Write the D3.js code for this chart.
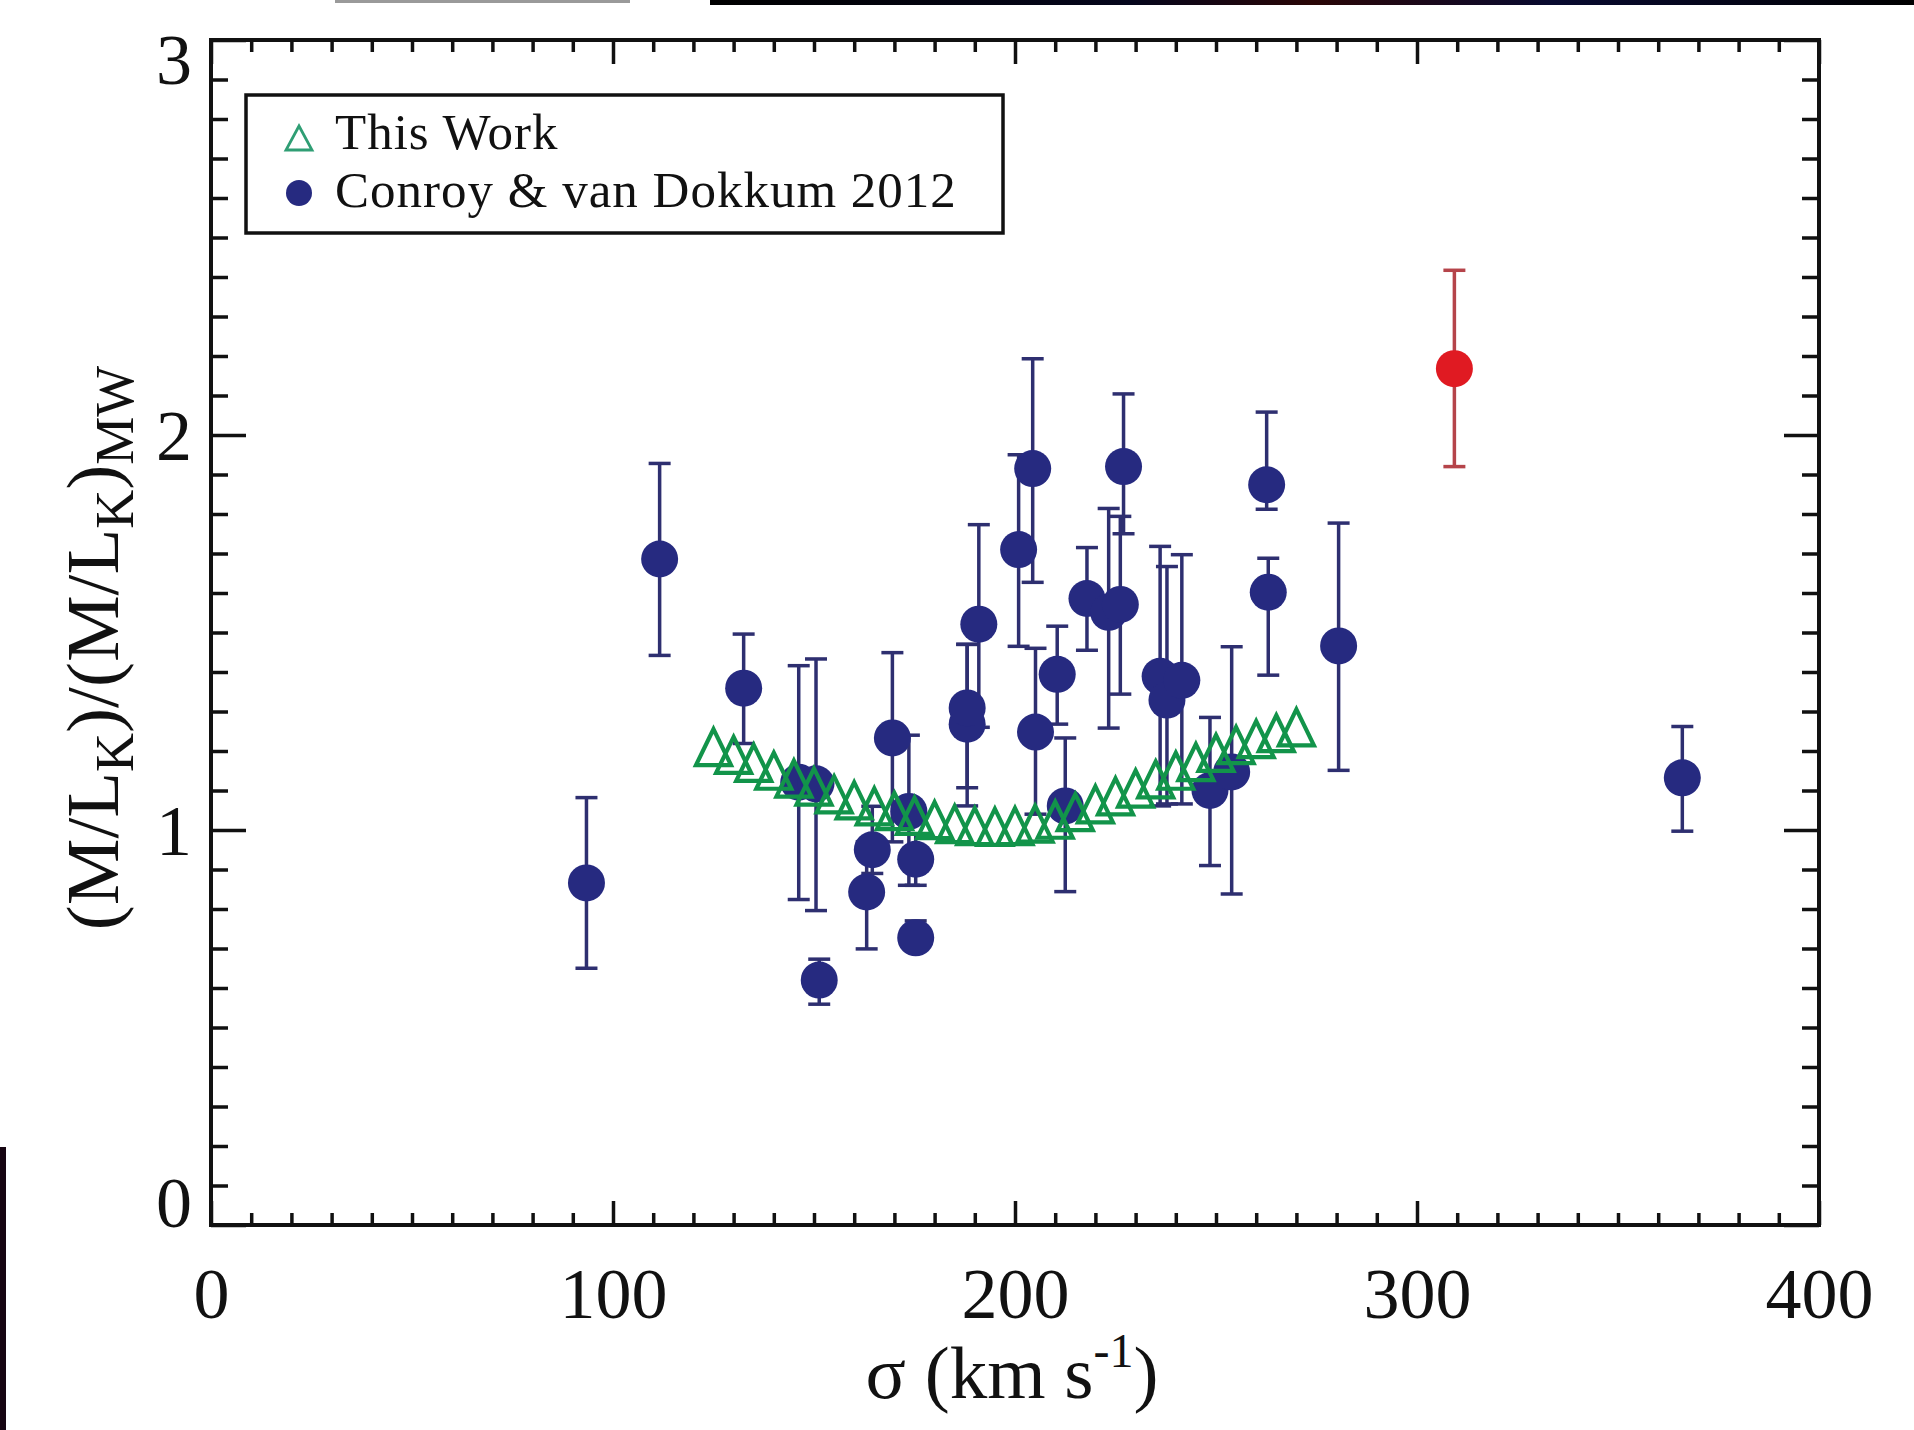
<!DOCTYPE html>
<html>
<head>
<meta charset="utf-8">
<script src="https://cdn.jsdelivr.net/npm/d3@7"></script>
<style>
  html, body { margin: 0; padding: 0; background: #ffffff; }
  svg { display: block; }
</style>
</head>
<body>
<svg id="chart" width="1914" height="1430"></svg>
<script>
// ---- Conroy & van Dokkum (2012) galaxies: sigma, M/L ratio, error range ----
const sigmaCvD = [93.4, 111.6, 132.5, 146.2, 150.5, 151.3, 163.1, 164.5, 169.5, 173.6,
                  175.3, 175.3, 188.1, 188.1, 191.0, 200.9, 204.4, 205.1, 210.5, 212.5,
                  217.9, 223.3, 226.2, 227.0, 236.1, 237.8, 241.5, 248.5, 253.9, 262.6,
                  263.0, 280.5, 366.0];
const ratioCvD = [0.866, 1.686, 1.359, 1.121, 1.117, 0.620, 0.843, 0.950, 1.233, 1.047,
                  0.926, 0.727, 1.268, 1.309, 1.521, 1.710, 1.915, 1.248, 1.394, 1.061,
                  1.586, 1.551, 1.571, 1.920, 1.389, 1.329, 1.379, 1.100, 1.147, 1.874,
                  1.602, 1.466, 1.132];
const ratioCvDLow = [0.650, 1.442, 1.219, 0.824, 0.796, 0.559, 0.699, 0.890, 0.970, 0.860,
                     0.860, 0.700, 1.061, 1.107, 1.260, 1.465, 1.627, 1.040, 1.268, 0.844,
                     1.455, 1.258, 1.344, 1.750, 1.061, 1.066, 1.066, 0.910, 0.838, 1.812,
                     1.392, 1.151, 0.997];
const ratioCvDHigh = [1.082, 1.928, 1.496, 1.416, 1.433, 0.673, 0.970, 1.060, 1.449, 1.240,
                      0.990, 0.770, 1.470, 1.470, 1.773, 1.950, 2.193, 1.460, 1.516, 1.233,
                      1.715, 1.814, 1.794, 2.104, 1.718, 1.667, 1.697, 1.285, 1.464, 2.058,
                      1.688, 1.777, 1.262];

// ---- Highlighted galaxy (red) ----
const sigmaHighlight = [309.3];
const ratioHighlight = [2.168];
const ratioHighlightLow = [1.920];
const ratioHighlightHigh = [2.417];

// ---- This work: model sequence ----
const sigmaThisWork = [125, 130, 135, 140, 145, 150, 155, 160, 165, 170,
                       175, 180, 185, 190, 195, 200, 205, 210, 215, 220,
                       225, 230, 235, 240, 245, 250, 255, 260, 265, 270];
const ratioThisWork = [1.210, 1.190, 1.170, 1.150, 1.130, 1.110, 1.090, 1.075, 1.060, 1.048,
                       1.036, 1.025, 1.015, 1.010, 1.008, 1.010, 1.016, 1.026, 1.045, 1.065,
                       1.085, 1.105, 1.128, 1.150, 1.172, 1.195, 1.215, 1.230, 1.245, 1.260];

// ---- Axes ----
const xDomain = [0, 400];
const yDomain = [0, 3];
const xMajorTicks = [0, 100, 200, 300, 400];
const yMajorTicks = [0, 1, 2, 3];
const xTickLabels = ["0", "100", "200", "300", "400"];
const yTickLabels = ["0", "1", "2", "3"];
const legendLabels = ["This Work", "Conroy & van Dokkum 2012"];

// ---- Styling ----
const FONT = "'Liberation Serif', 'Times New Roman', Times, serif";
const BLUE = "#262a80";
const BLUE_BAR = "#2e2f70";
const RED = "#e01a22";
const RED_BAR = "#b5444a";
const GREEN = "#12944a";
const LEGEND_GREEN = "#2f9e74";
const INK = "#111111";

const svg = d3.select("#chart");
const plot = { left: 211, right: 1819, top: 40, bottom: 1225 };

const x = d3.scaleLinear().domain(xDomain).range([plot.left, plot.right]);
const y = d3.scaleLinear().domain(yDomain).range([plot.bottom, plot.top]);

// page edge bands
const grad = svg.append("defs").append("linearGradient")
  .attr("id", "edgeBand").attr("x1", "0").attr("x2", "1").attr("y1", "0").attr("y2", "0");
[["0", "#000000"], ["0.35", "#05061c"], ["0.5", "#2a0606"], ["0.7", "#080a30"], ["1", "#000000"]]
  .forEach(([o, c]) => grad.append("stop").attr("offset", o).attr("stop-color", c));
svg.append("rect").attr("x", 710).attr("y", 0).attr("width", 1204).attr("height", 5)
  .attr("fill", "url(#edgeBand)");
svg.append("rect").attr("x", 0).attr("y", 1147).attr("width", 6).attr("height", 283)
  .attr("fill", "#160512");
svg.append("rect").attr("x", 335).attr("y", 0).attr("width", 295).attr("height", 3)
  .attr("fill", "#9a9a9a");

// ---- tick marks on all four sides ----
function ticks(axisFn, values, len, transform) {
  const g = svg.append("g").attr("transform", transform)
    .call(axisFn.tickValues(values).tickSize(-len).tickFormat(""));
  g.select(".domain").remove();
  g.selectAll(".tick line").attr("stroke", INK).attr("stroke-width", 3.5);
  return g;
}
const xMinor = d3.range(0, 401, 10).filter(v => v % 100 !== 0);
const yMinor = d3.range(0, 31).map(v => v / 10).filter(v => Math.abs(v - Math.round(v)) > 1e-6);

ticks(d3.axisBottom(x), xMinor, 12, `translate(0,${plot.bottom})`);
ticks(d3.axisBottom(x), xMajorTicks, 24, `translate(0,${plot.bottom})`);
ticks(d3.axisTop(x), xMinor, 12, `translate(0,${plot.top})`);
ticks(d3.axisTop(x), xMajorTicks, 24, `translate(0,${plot.top})`);
ticks(d3.axisLeft(y), yMinor, 17, `translate(${plot.left},0)`);
ticks(d3.axisLeft(y), yMajorTicks, 35, `translate(${plot.left},0)`);
ticks(d3.axisRight(y), yMinor, 17, `translate(${plot.right},0)`);
ticks(d3.axisRight(y), yMajorTicks, 35, `translate(${plot.right},0)`);

// frame
svg.append("rect")
  .attr("x", plot.left).attr("y", plot.top)
  .attr("width", plot.right - plot.left).attr("height", plot.bottom - plot.top)
  .attr("fill", "none").attr("stroke", INK).attr("stroke-width", 4);

// ---- tick labels ----
const xLab = svg.append("g").attr("transform", `translate(0,${plot.bottom})`)
  .call(d3.axisBottom(x).tickValues(xMajorTicks).tickSize(0)
    .tickFormat((d, i) => xTickLabels[i]));
xLab.select(".domain").remove();
xLab.selectAll("text")
  .attr("y", 93).attr("dy", 0)
  .attr("font-family", FONT).attr("font-size", 72).attr("fill", INK);

const yLab = svg.append("g").attr("transform", `translate(${plot.left},0)`)
  .call(d3.axisLeft(y).tickValues(yMajorTicks).tickSize(0)
    .tickFormat((d, i) => yTickLabels[i]));
yLab.select(".domain").remove();
yLab.selectAll("text")
  .attr("x", -19)
  .attr("dy", d => (d === yDomain[0] ? 1 : d === yDomain[1] ? 43 : 24))
  .attr("font-family", FONT).attr("font-size", 72).attr("fill", INK);

// ---- axis titles ----
const xTitle = svg.append("text")
  .attr("x", 1012).attr("y", 1398)
  .attr("text-anchor", "middle")
  .attr("font-family", FONT).attr("font-size", 75).attr("fill", INK);
xTitle.append("tspan").text("σ (km s");
xTitle.append("tspan").attr("font-size", 48).attr("dy", -31).text("-1");
xTitle.append("tspan").attr("dy", 31).text(")");

const yTitle = svg.append("text")
  .attr("transform", "translate(118,648) rotate(-90)")
  .attr("text-anchor", "middle")
  .attr("font-family", FONT).attr("font-size", 75).attr("fill", INK);
yTitle.append("tspan").text("(M/L");
yTitle.append("tspan").attr("font-size", 54).attr("dy", 15).text("K");
yTitle.append("tspan").attr("dy", -15).text(")/(M/L");
yTitle.append("tspan").attr("font-size", 54).attr("dy", 15).text("K");
yTitle.append("tspan").attr("dy", -15).text(")");
yTitle.append("tspan").attr("font-size", 54).attr("dy", 15).text("MW");

// ---- data ----
const cvd = sigmaCvD.map((s, i) => ({ s, v: ratioCvD[i], lo: ratioCvDLow[i], hi: ratioCvDHigh[i] }));
const highlight = sigmaHighlight.map((s, i) => ({ s, v: ratioHighlight[i], lo: ratioHighlightLow[i], hi: ratioHighlightHigh[i] }));
const model = sigmaThisWork.map((s, i) => ({ s, v: ratioThisWork[i] }));

const CAP = 11;
function errorBars(g, data, color) {
  const bars = g.selectAll("g.err").data(data).join("g").attr("class", "err")
    .attr("stroke", color).attr("stroke-width", 3.5).attr("fill", "none");
  bars.append("line")
    .attr("x1", d => x(d.s)).attr("x2", d => x(d.s))
    .attr("y1", d => y(d.lo)).attr("y2", d => y(d.hi));
  bars.append("line")
    .attr("x1", d => x(d.s) - CAP).attr("x2", d => x(d.s) + CAP)
    .attr("y1", d => y(d.lo)).attr("y2", d => y(d.lo));
  bars.append("line")
    .attr("x1", d => x(d.s) - CAP).attr("x2", d => x(d.s) + CAP)
    .attr("y1", d => y(d.hi)).attr("y2", d => y(d.hi));
}

const cvdLayer = svg.append("g");
errorBars(cvdLayer, cvd, BLUE_BAR);
cvdLayer.selectAll("circle").data(cvd).join("circle")
  .attr("cx", d => x(d.s)).attr("cy", d => y(d.v)).attr("r", 18.5)
  .attr("fill", BLUE);

// open triangles for the model sequence
function triPath(hw, hh) {
  return `M0,${-hh}L${hw},${hh}L${-hw},${hh}Z`;
}
svg.append("g").selectAll("path").data(model).join("path")
  .attr("d", triPath(17.5, 18))
  .attr("transform", d => `translate(${x(d.s)},${y(d.v)})`)
  .attr("fill", "none").attr("stroke", GREEN).attr("stroke-width", 4.2)
  .attr("stroke-linejoin", "miter");

const hiLayer = svg.append("g");
errorBars(hiLayer, highlight, RED_BAR);
hiLayer.selectAll("circle").data(highlight).join("circle")
  .attr("cx", d => x(d.s)).attr("cy", d => y(d.v)).attr("r", 18.5)
  .attr("fill", RED);

// ---- legend ----
const legend = svg.append("g");
legend.append("rect")
  .attr("x", 246).attr("y", 95).attr("width", 757).attr("height", 138)
  .attr("fill", "#ffffff").attr("stroke", INK).attr("stroke-width", 3.5);
legend.append("path")
  .attr("d", triPath(13, 12))
  .attr("transform", "translate(299,138)")
  .attr("fill", "none").attr("stroke", LEGEND_GREEN).attr("stroke-width", 2.8);
legend.append("circle").attr("cx", 299).attr("cy", 193).attr("r", 13).attr("fill", BLUE);
legend.selectAll("text.lab").data(legendLabels).join("text")
  .attr("class", "lab")
  .attr("x", 335).attr("y", (d, i) => (i === 0 ? 149 : 207))
  .attr("font-family", FONT).attr("font-size", 51).attr("letter-spacing", 1)
  .attr("fill", INK)
  .text(d => d);
</script>
</body>
</html>
